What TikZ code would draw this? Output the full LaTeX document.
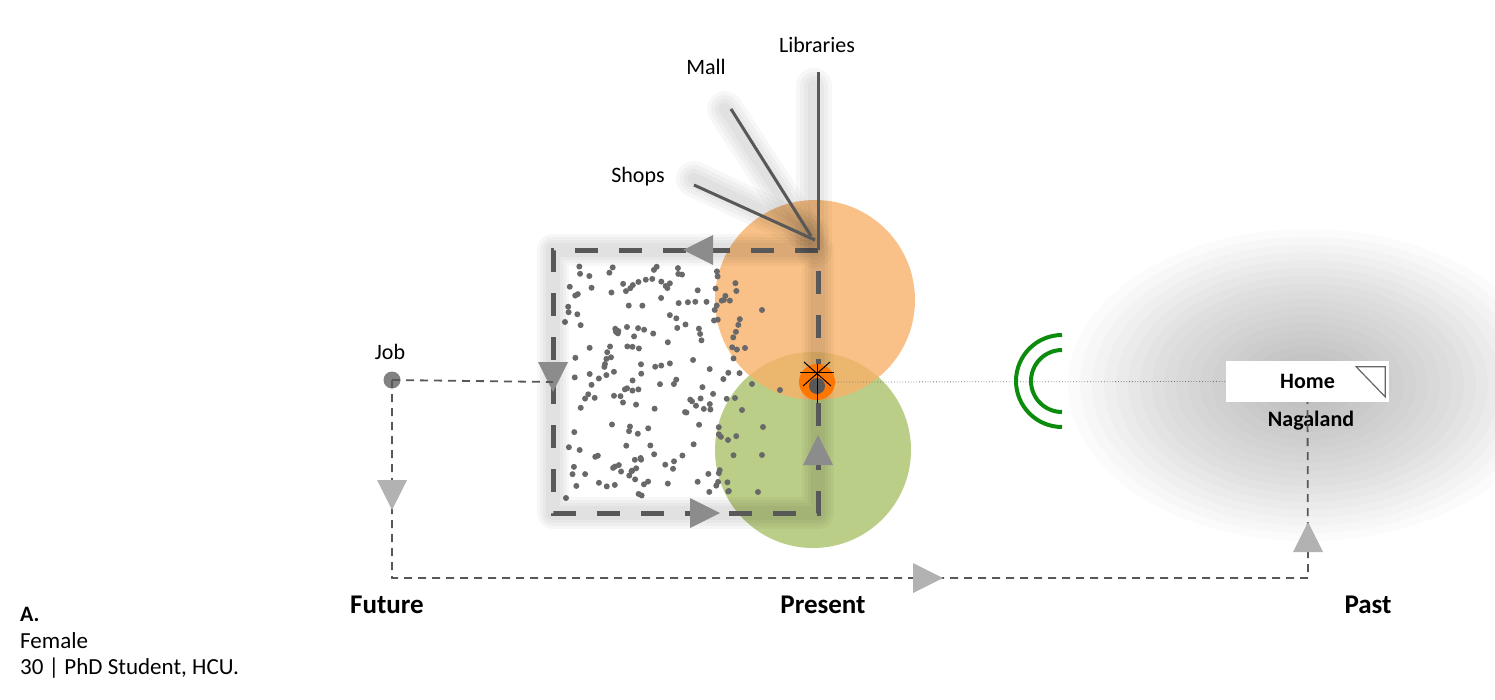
\documentclass[tikz,border=0pt]{standalone}
\usepackage{fontspec}
\setmainfont{Carlito}
\usepackage{tikz}
\usetikzlibrary{calc}
\definecolor{linegray}{RGB}{88,88,88}
\definecolor{tipgray}{RGB}{140,140,140}
\definecolor{paletip}{RGB}{178,178,178}
\definecolor{dotgray}{RGB}{105,105,105}
\definecolor{jobgray}{RGB}{130,130,130}
\definecolor{peach}{RGB}{248,178,105}
\definecolor{sage}{RGB}{186,206,135}
\definecolor{ringgreen}{RGB}{12,140,12}
\definecolor{orborange}{RGB}{255,118,0}
% triangle tip in the middle of a line: colour, x, y, direction
\newcommand\flowtip[4]{\fill[#1,shift={(#2,#3)},rotate=#4] (15,0) -- (-15,15) -- (-15,-15) -- cycle;}

\begin{document}
\begin{tikzpicture}[x=1pt,y=-1pt,
    lbl/.style={font=\fontsize{22}{26}\selectfont},
    tlbl/.style={font=\fontsize{27}{31}\selectfont\bfseries},
    hlbl/.style={font=\fontsize{22}{26}\selectfont\bfseries},
    glow/.style={black,opacity=0.03,line cap=round,line join=round},
    tripline/.style={linegray,line width=1.8,dash pattern=on 8 off 6},
    loopline/.style={linegray,line width=5,dash pattern=on 23 off 21}]
    \useasboundingbox (0,0) rectangle (1495,699);
    \clip (0,0) rectangle (1495,699);
    % haze round home
    \foreach \i in {1,...,20}
        \fill[black,opacity=0.017] (1308,385) ellipse [x radius=12*\i, y radius=7.8*\i];
    % present circles
    \fill[sage] (813,450) circle (98);
    \fill[peach,opacity=0.8] (815,300) circle (100);
    % dots
    \pgfmathsetseed{2718}
    \foreach \k in {1,...,190}{
        \pgfmathsetmacro\px{568+172*rnd}
        \pgfmathsetmacro\py{266+232*rnd}
        \fill[dotgray] (\px,\py) circle (3);
    }
    \foreach \px/\py in {762/310,745/348,752/384,780/390,735/398,742/410,763/427,762/455,758/492,565/322,566/498,728/440}
        \fill[dotgray] (\px,\py) circle (3);
    % loop round the present
    \coordinate (nw) at (553,250);
    \coordinate (ne) at (818,250);
    \coordinate (sw) at (553,513);
    \coordinate (se) at (818,513);
    \foreach \w in {32,26,20,14} \draw[glow,line width=\w] (ne) -- (nw) -- (sw) -- (se) -- cycle;
    \draw[loopline] (ne) -- (nw) -- (sw) -- (se) -- cycle;
    \flowtip{tipgray}{698}{250}{180}
    \flowtip{tipgray}{553}{377}{270}
    \flowtip{tipgray}{705}{513}{0}
    \flowtip{tipgray}{818}{450}{90}
    % places
    \node[lbl] (libraries) at (817,45) {Libraries};
    \node[lbl] (mall) at (706,67) {Mall};
    \node[lbl] (shops) at (638,177) {Shops};
    \coordinate (libtop) at (818,72);
    \coordinate (malltop) at (731,109);
    \coordinate (shopstop) at (694,185);
    \coordinate (mallend) at (811,236);
    \coordinate (shopsend) at (815,240);
    \foreach \w in {36,28,20,12}{
        \draw[glow,line width=\w] ($(libtop)+(-4,14)$) -- ($(ne)+(-4,0)$);
        \draw[glow,line width=\w] ($(malltop)+(-6,0)$) -- ($(mallend)+(-6,-4)$);
        \draw[glow,line width=\w] ($(shopstop)+(0,-6)$) -- ($(shopsend)+(-4,-6)$);
    }
    \draw[linegray,line width=3] (libtop) -- (ne);
    \draw[linegray,line width=3] (malltop) -- (mallend);
    \draw[linegray,line width=3] (shopstop) -- (shopsend);
    % me, now
    \node[circle,fill=orborange,minimum size=36,inner sep=0] (orb) at (817,382) {};
    \fill[linegray] (817,386) circle (8);
    \draw[black,line width=1] (800,372) -- (834,372);
    \draw[black,line width=1] (804,362) -- (831,386);
    \draw[black,line width=1] (830,362) -- (803,386);
    \draw[black,line width=1] (817,364) -- (817,403);
    % home
    \node[fill=white,minimum width=163,minimum height=41,inner sep=0,hlbl] (home) at (1307.5,381.5) {Home};
    \draw[black!60,line width=1.2] ($(home.north east)+(-33,6)$) -- ($(home.north east)+(-4,6)$) -- ($(home.north east)+(-4,36)$) -- cycle;
    \node[hlbl] (nagaland) at (1311,421) {Nagaland};
    \draw[black!55,line width=0.8,dotted] (orb.east) -- (home.west);
    % signal
    \coordinate (signal) at (1062,381);
    \draw[ringgreen,line width=4] ($(signal)+(0,46)$) arc[start angle=90,end angle=270,radius=46];
    \draw[ringgreen,line width=4] ($(signal)+(0,31)$) arc[start angle=90,end angle=270,radius=31];
    % job and the trip line
    \node[circle,fill=jobgray,minimum size=17,inner sep=0] (job) at (392,380) {};
    \node[lbl] (joblbl) at (390,352) {Job};
    \coordinate (entry) at (553,382);
    \coordinate (futurecorner) at (392,578);
    \coordinate (pastcorner) at (1308,578);
    \draw[tripline] (job.center) -- (entry);
    \draw[tripline] (job.center) -- (futurecorner) -- (pastcorner) -- (home.south);
    \flowtip{paletip}{392}{495}{270}
    \flowtip{paletip}{928}{578}{0}
    \flowtip{paletip}{1308}{537}{90}
    % time axis
    \node[tlbl] (future) at (387,605) {Future};
    \node[tlbl] (present) at (823,605) {Present};
    \node[tlbl] (past) at (1368,605) {Past};
    % who
    \node[hlbl,anchor=west,inner sep=0] (who) at (20,614) {A.};
    \node[lbl,font=\fontsize{23}{27}\selectfont,anchor=west,inner sep=0] (sex) at (20,641) {Female};
    \node[lbl,font=\fontsize{23}{27}\selectfont,anchor=west,inner sep=0] (role) at (20,668) {30 | PhD Student, HCU.};
\end{tikzpicture}
\end{document}
